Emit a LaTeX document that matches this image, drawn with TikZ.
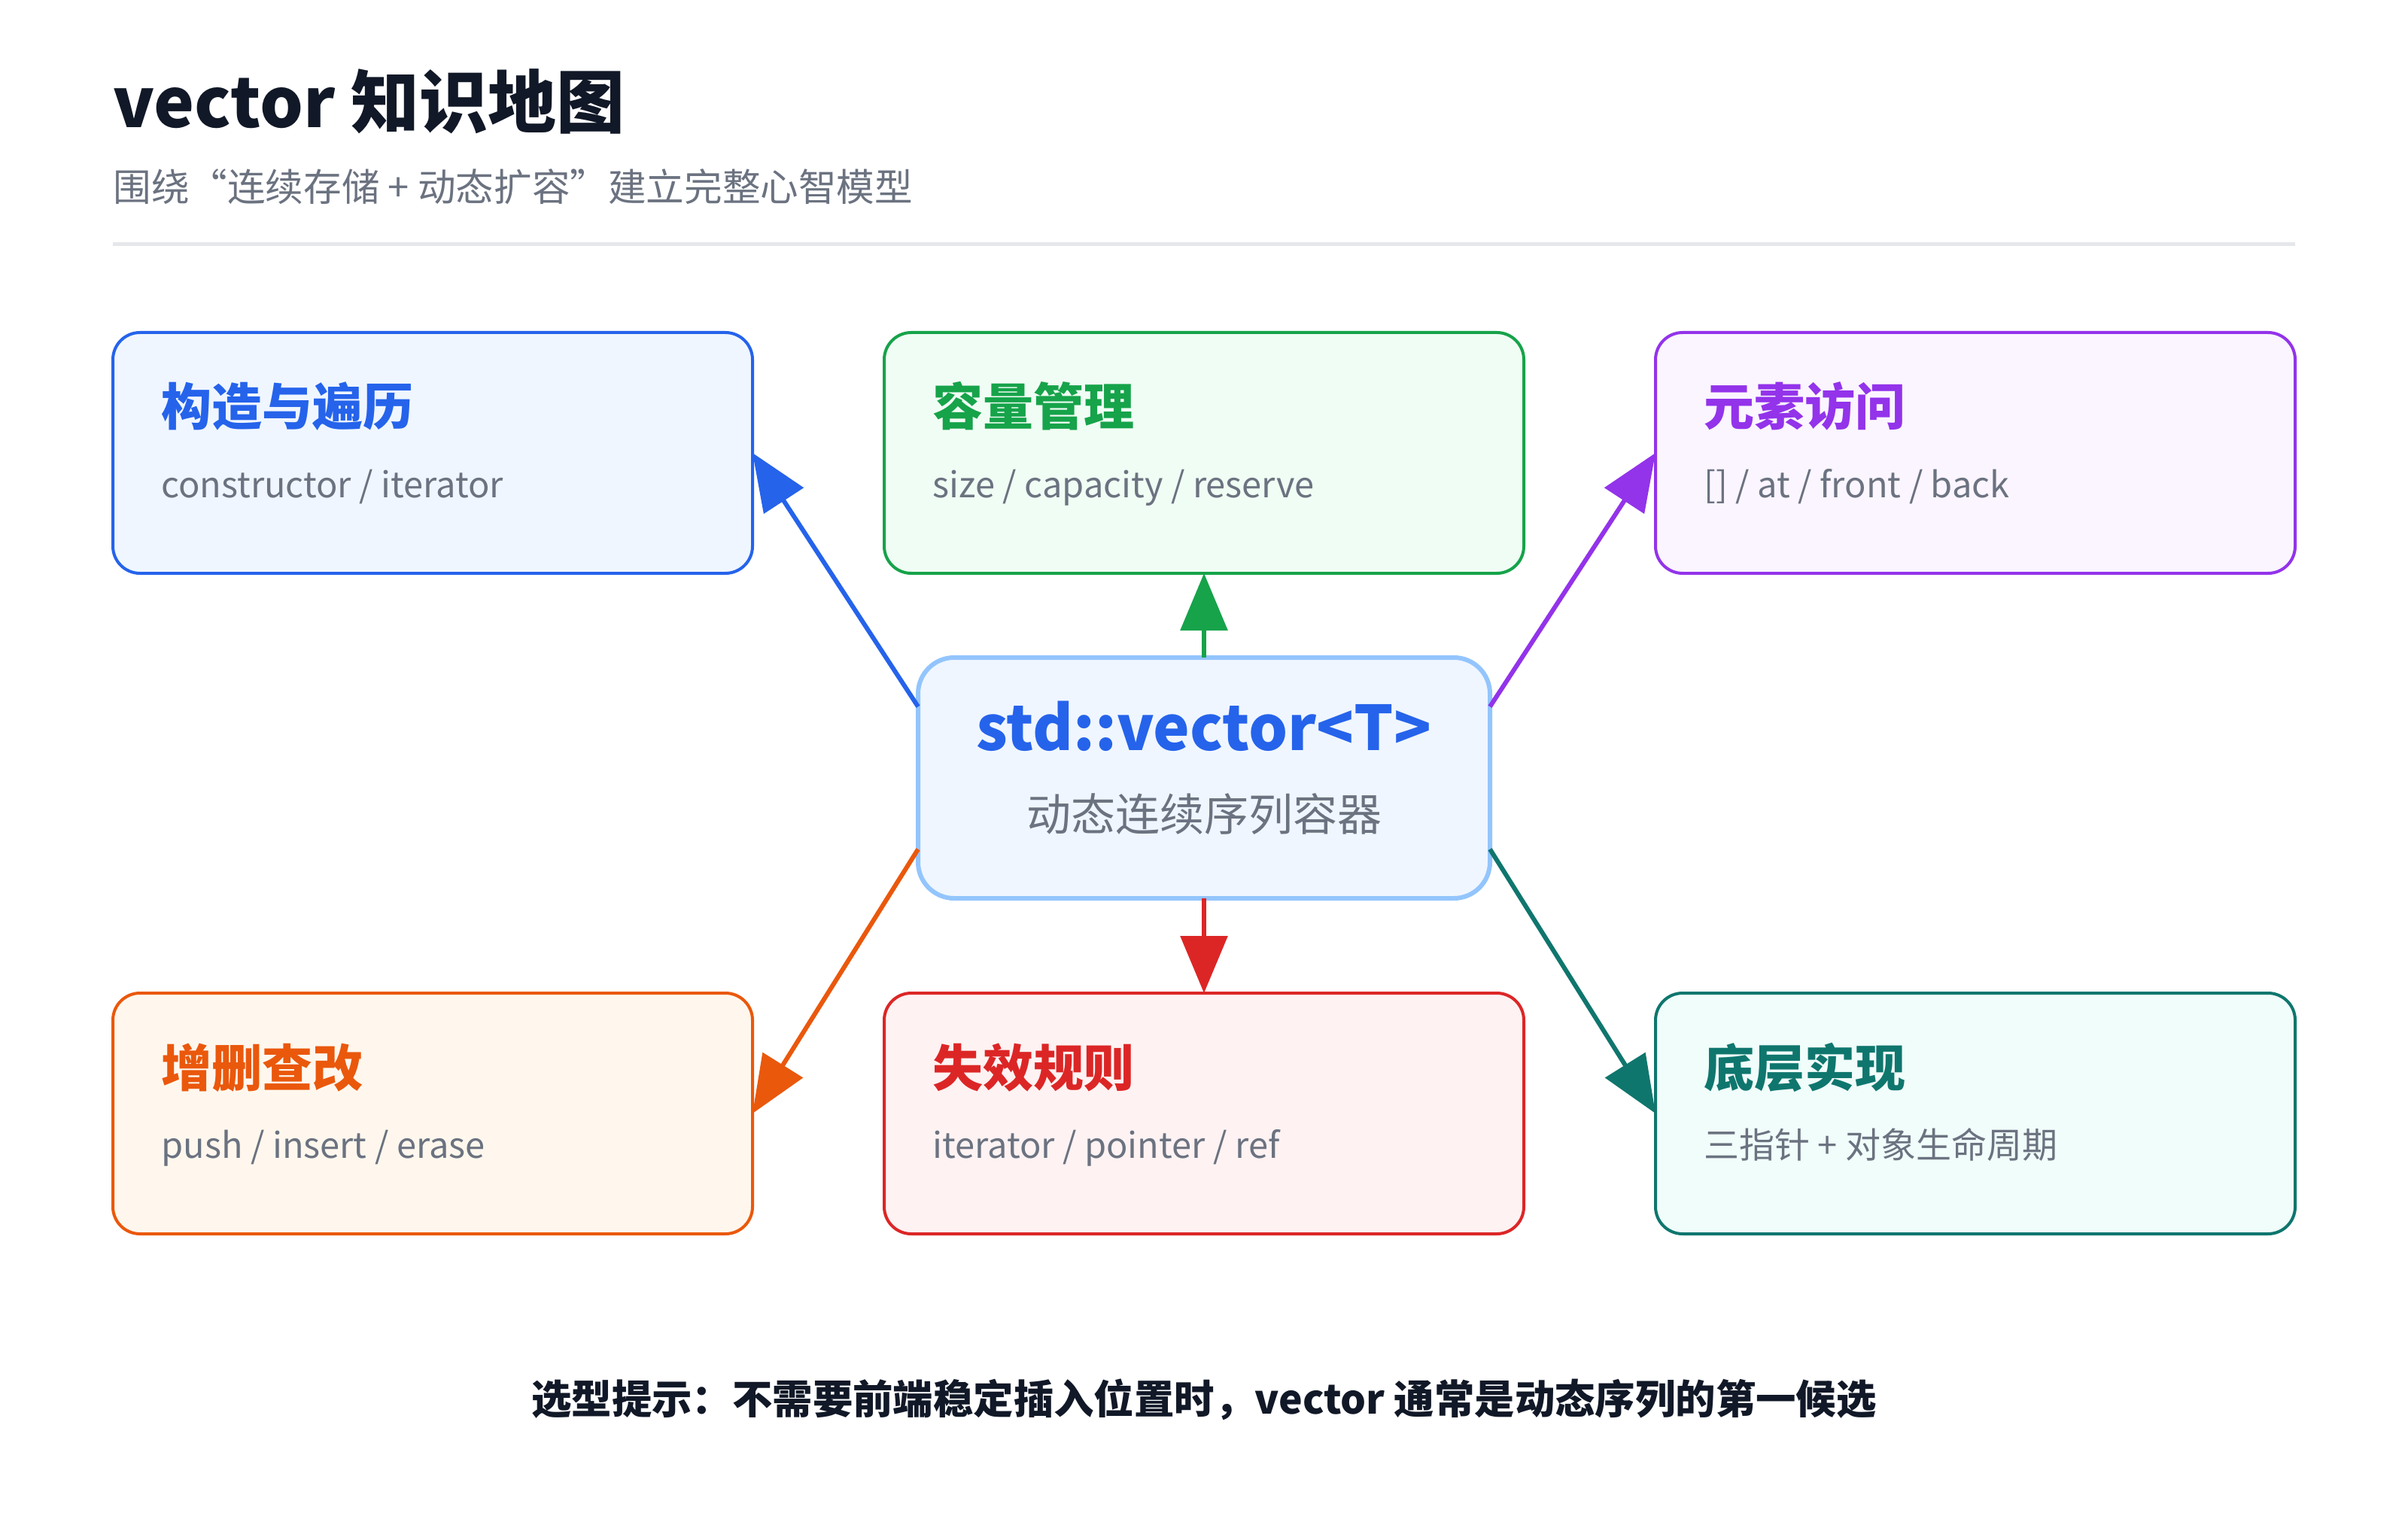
\documentclass[tikz,border=0pt]{standalone}
\usepackage{fontspec}
\usepackage{xcolor}
\usepackage{tikz}
\usetikzlibrary{positioning,arrows.meta}
\setmainfont{Noto Sans CJK SC}
\definecolor{inkD}{HTML}{111827}
\definecolor{grayT}{HTML}{6B7280}
\definecolor{ruleG}{HTML}{E5E7EB}
\definecolor{coreS}{HTML}{93C5FD}
\definecolor{blueD}{HTML}{2563EB}
\definecolor{blueL}{HTML}{EFF6FF}
\definecolor{greenD}{HTML}{16A34A}
\definecolor{greenL}{HTML}{F0FDF4}
\definecolor{purpleD}{HTML}{9333EA}
\definecolor{purpleL}{HTML}{FAF5FF}
\definecolor{orangeD}{HTML}{EA580C}
\definecolor{orangeL}{HTML}{FFF7ED}
\definecolor{redD}{HTML}{DC2626}
\definecolor{redL}{HTML}{FEF2F2}
\definecolor{tealD}{HTML}{0F766E}
\definecolor{tealL}{HTML}{F0FDFA}

\begin{document}
\begin{tikzpicture}[x=1pt, y=-1pt, inner sep=0pt,
    vec block/.style={rectangle, rounded corners=18pt, line width=2pt, minimum width=425pt, minimum height=160pt, outer sep=0pt},
    vec head/.style={anchor=base west, font=\fontsize{33.5}{36}\selectfont\bfseries},
    vec sub/.style={anchor=base west, text=grayT, font=\fontsize{23.5}{26}\selectfont},
    vec arrow/.style={line width=3pt, -{Triangle[length=38pt, width=31pt]}}]
    \useasboundingbox[fill=white] (0,0) rectangle (1600,1013.5);

    % title
    \node[anchor=base west, text=inkD, font=\fontsize{45.5}{50}\selectfont\bfseries] (T) at (75,85) {vector 知识地图};
    \node[anchor=base west, text=grayT, font=\fontsize{25.3}{28}\selectfont] (S) at (75,134) {围绕“连续存储 + 动态扩容”建立完整心智模型};
    \draw[ruleG, line width=2.5pt] (75,162.5) -- (1525,162.5);

    % core
    \node[vec block, rounded corners=24pt, line width=3pt, minimum width=380pt, draw=coreS, fill=blueL] (V) at (800,517) {};
    \node[anchor=base, text=blueD, font=\fontsize{41}{44}\selectfont\bfseries] (V1) at ([yshift=18.5pt]V.center) {std::vector<T>};
    \node[anchor=base, text=grayT, font=\fontsize{29.5}{32}\selectfont] (V2) at ([yshift=-35pt]V.center) {动态连续序列容器};

    % topics
    \node[vec block, draw=blueD, fill=blueL] (A) [above left=56pt and 110pt of V] {};
    \node[vec block, draw=greenD, fill=greenL] (B) [above=56pt of V] {};
    \node[vec block, draw=purpleD, fill=purpleL] (C) [above right=56pt and 110pt of V] {};
    \node[vec block, draw=orangeD, fill=orangeL] (D) [below left=63pt and 110pt of V] {};
    \node[vec block, draw=redD, fill=redL] (E) [below=63pt of V] {};
    \node[vec block, draw=tealD, fill=tealL] (F) [below right=63pt and 110pt of V] {};

    \node[vec head, text=blueD] (A1) at ([xshift=32pt, yshift=-62pt]A.north west) {构造与遍历};
    \node[vec sub] (A2) at ([xshift=32pt, yshift=-109.5pt]A.north west) {constructor / iterator};
    \node[vec head, text=greenD] (B1) at ([xshift=32pt, yshift=-62pt]B.north west) {容量管理};
    \node[vec sub] (B2) at ([xshift=32pt, yshift=-109.5pt]B.north west) {size / capacity / reserve};
    \node[vec head, text=purpleD] (C1) at ([xshift=32pt, yshift=-62pt]C.north west) {元素访问};
    \node[vec sub] (C2) at ([xshift=32pt, yshift=-109.5pt]C.north west) {[] / at / front / back};
    \node[vec head, text=orangeD] (D1) at ([xshift=32pt, yshift=-62pt]D.north west) {增删查改};
    \node[vec sub] (D2) at ([xshift=32pt, yshift=-109.5pt]D.north west) {push / insert / erase};
    \node[vec head, text=redD] (E1) at ([xshift=32pt, yshift=-62pt]E.north west) {失效规则};
    \node[vec sub] (E2) at ([xshift=32pt, yshift=-109.5pt]E.north west) {iterator / pointer / ref};
    \node[vec head, text=tealD] (F1) at ([xshift=32pt, yshift=-62pt]F.north west) {底层实现};
    \node[vec sub] (F2) at ([xshift=32pt, yshift=-109.5pt]F.north west) {三指针 + 对象生命周期};

    \draw[vec arrow, blueD] (V.166) -- (A.east);
    \draw[vec arrow, greenD] (V.north) -- (B.south);
    \draw[vec arrow, purpleD] (V.14) -- (C.west);
    \draw[vec arrow, orangeD] (V.194) -- (D.east);
    \draw[vec arrow, redD] (V.south) -- (E.north);
    \draw[vec arrow, tealD] (V.-14) -- (F.west);

    % note
    \node[anchor=base, text=inkD, font=\fontsize{26.7}{30}\selectfont\bfseries] (N) at (800,939.5) {选型提示：不需要前端稳定插入位置时，vector 通常是动态序列的第一候选};
\end{tikzpicture}
\end{document}
